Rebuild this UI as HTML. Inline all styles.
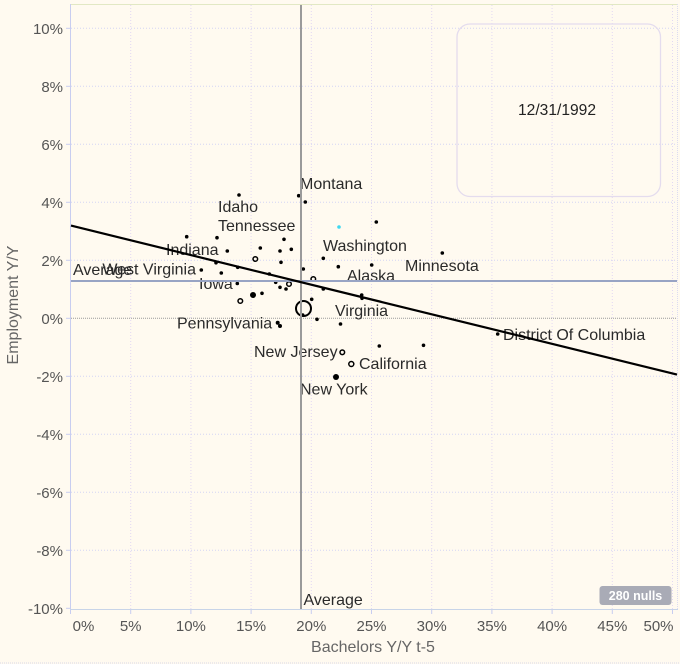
<!DOCTYPE html>
<html><head><meta charset="utf-8"><style>
html,body{margin:0;padding:0;background:#fffaf0;}
svg{display:block;font-family:"Liberation Sans",Arial,sans-serif;}
</style></head><body>
<svg width="680" height="664" viewBox="0 0 680 664" xmlns="http://www.w3.org/2000/svg">
<rect x="0" y="0" width="680" height="664" fill="#fffaf0"/>
<line x1="0" y1="663" x2="680" y2="663" stroke="#d8d8e8" stroke-dasharray="1,1"/>
<!-- plot border -->
<line x1="70" y1="4.5" x2="678" y2="4.5" stroke="#e2e8c4" stroke-width="1"/>
<line x1="70.5" y1="4" x2="70.5" y2="610" stroke="#c8cdf0" stroke-width="1"/>
<line x1="677.5" y1="4" x2="677.5" y2="610" stroke="#dcdcf0" stroke-dasharray="1,1"/>
<line x1="70" y1="609.5" x2="678" y2="609.5" stroke="#c8d4e8" stroke-width="1"/>
<!-- vertical grid -->
<g stroke="#e2d8f2" stroke-width="1" stroke-dasharray="1,2">
<line x1="130.7" y1="5" x2="130.7" y2="609"/>
<line x1="190.9" y1="5" x2="190.9" y2="609"/>
<line x1="251.1" y1="5" x2="251.1" y2="609"/>
<line x1="311.3" y1="5" x2="311.3" y2="609"/>
<line x1="371.5" y1="5" x2="371.5" y2="609"/>
<line x1="431.7" y1="5" x2="431.7" y2="609"/>
<line x1="491.9" y1="5" x2="491.9" y2="609"/>
<line x1="552.1" y1="5" x2="552.1" y2="609"/>
<line x1="612.3" y1="5" x2="612.3" y2="609"/>
<line x1="672.5" y1="5" x2="672.5" y2="609"/>
</g>
<!-- horizontal grid -->
<g stroke="#d4d4f4" stroke-width="1" stroke-dasharray="1,2">
<line x1="71" y1="28.3" x2="677" y2="28.3"/>
<line x1="71" y1="86.3" x2="677" y2="86.3"/>
<line x1="71" y1="144.3" x2="677" y2="144.3"/>
<line x1="71" y1="202.3" x2="677" y2="202.3"/>
<line x1="71" y1="260.3" x2="677" y2="260.3"/>
<line x1="71" y1="376.3" x2="677" y2="376.3"/>
<line x1="71" y1="434.3" x2="677" y2="434.3"/>
<line x1="71" y1="492.3" x2="677" y2="492.3"/>
<line x1="71" y1="550.3" x2="677" y2="550.3"/>
</g>
<line x1="71" y1="318.3" x2="677" y2="318.3" stroke="#9a9a9a" stroke-width="1" stroke-dasharray="1,1"/>
<!-- ticks -->
<g stroke="#c8cdf0" stroke-width="1">
<line x1="66" y1="28.3" x2="70" y2="28.3"/><line x1="66" y1="86.3" x2="70" y2="86.3"/>
<line x1="66" y1="144.3" x2="70" y2="144.3"/><line x1="66" y1="202.3" x2="70" y2="202.3"/>
<line x1="66" y1="260.3" x2="70" y2="260.3"/><line x1="66" y1="318.3" x2="70" y2="318.3"/>
<line x1="66" y1="376.3" x2="70" y2="376.3"/><line x1="66" y1="434.3" x2="70" y2="434.3"/>
<line x1="66" y1="492.3" x2="70" y2="492.3"/><line x1="66" y1="550.3" x2="70" y2="550.3"/>
<line x1="66" y1="608.3" x2="70" y2="608.3"/>
<line x1="70.5" y1="610" x2="70.5" y2="614"/><line x1="130.7" y1="610" x2="130.7" y2="614"/>
<line x1="190.9" y1="610" x2="190.9" y2="614"/><line x1="251.1" y1="610" x2="251.1" y2="614"/>
<line x1="311.3" y1="610" x2="311.3" y2="614"/><line x1="371.5" y1="610" x2="371.5" y2="614"/>
<line x1="431.7" y1="610" x2="431.7" y2="614"/><line x1="491.9" y1="610" x2="491.9" y2="614"/>
<line x1="552.1" y1="610" x2="552.1" y2="614"/><line x1="612.3" y1="610" x2="612.3" y2="614"/>
<line x1="672.5" y1="610" x2="672.5" y2="614"/>
</g>
<!-- y tick labels -->
<g font-size="15" fill="#555" text-anchor="end">
<text x="63" y="33.8">10%</text><text x="63" y="91.8">8%</text>
<text x="63" y="149.8">6%</text><text x="63" y="207.8">4%</text>
<text x="63" y="265.8">2%</text><text x="63" y="323.8">0%</text>
<text x="63" y="381.8">-2%</text><text x="63" y="439.8">-4%</text>
<text x="63" y="497.8">-6%</text><text x="63" y="555.8">-8%</text>
<text x="63" y="613.8">-10%</text>
</g>
<!-- x tick labels -->
<g font-size="15" fill="#555" text-anchor="middle">
<text x="83.5" y="631">0%</text><text x="130.7" y="631">5%</text>
<text x="190.9" y="631">10%</text><text x="251.1" y="631">15%</text>
<text x="311.3" y="631">20%</text><text x="371.5" y="631">25%</text>
<text x="431.7" y="631">30%</text><text x="491.9" y="631">35%</text>
<text x="552.1" y="631">40%</text><text x="612.3" y="631">45%</text>
<text x="658.5" y="631">50%</text>
</g>
<text x="373" y="652" font-size="16" fill="#666" text-anchor="middle">Bachelors Y/Y t-5</text>
<text transform="translate(18,305) rotate(-90)" font-size="16" fill="#666" text-anchor="middle">Employment Y/Y</text>
<!-- date box -->
<rect x="457" y="24" width="203.5" height="172.5" rx="13" ry="13" fill="none" stroke="#e4dcee" stroke-width="1.3"/>
<text x="557" y="115" font-size="15.6" fill="#222" text-anchor="middle">12/31/1992</text>
<!-- labels -->
<g font-size="16" fill="#2a2a2a">
<text x="300" y="189">Montana</text>
<text x="218" y="212">Idaho</text>
<text x="218" y="231">Tennessee</text>
<text x="323" y="251">Washington</text>
<text x="166" y="255">Indiana</text>
<text x="405" y="271">Minnesota</text>
<text x="347" y="281">Alaska</text>
<text x="196" y="274.5" text-anchor="end">West Virginia</text>
<text x="73" y="275">Average</text>
<text x="199" y="289">Iowa</text>
<text x="335" y="316">Virginia</text>
<text x="177" y="328.5">Pennsylvania</text>
<text x="254" y="357">New Jersey</text>
<text x="359" y="369">California</text>
<text x="300" y="394.5">New York</text>
<text x="303.5" y="605">Average</text>
<text x="503" y="340">District Of Columbia</text>
</g>
<!-- dots -->
<g fill="#000">
<circle cx="239" cy="195" r="1.8"/><circle cx="298.7" cy="195.7" r="1.8"/>
<circle cx="305.3" cy="202" r="1.8"/><circle cx="376.3" cy="222" r="1.8"/>
<circle cx="186.7" cy="236.7" r="1.8"/><circle cx="217" cy="237.7" r="1.8"/>
<circle cx="284" cy="239.3" r="1.8"/><circle cx="260.3" cy="248" r="1.8"/>
<circle cx="227.3" cy="251" r="1.8"/><circle cx="280" cy="251" r="1.8"/>
<circle cx="291.3" cy="249.3" r="1.8"/><circle cx="442.3" cy="253" r="1.8"/>
<circle cx="323.3" cy="258.3" r="1.8"/><circle cx="371.7" cy="265" r="1.8"/>
<circle cx="338.3" cy="266.7" r="1.8"/><circle cx="281" cy="262.3" r="1.8"/>
<circle cx="201.3" cy="270" r="1.8"/><circle cx="216" cy="262.7" r="1.8"/>
<circle cx="237.7" cy="267.3" r="1.8"/><circle cx="303.3" cy="269" r="1.8"/>
<circle cx="221.3" cy="273" r="1.8"/><circle cx="269.3" cy="274" r="1.8"/>
<circle cx="237.3" cy="283.5" r="1.8"/><circle cx="275.7" cy="282.3" r="1.8"/>
<circle cx="280" cy="287.3" r="1.8"/><circle cx="286" cy="289" r="1.8"/>
<circle cx="323.3" cy="289" r="1.8"/><circle cx="361.7" cy="295" r="1.8"/>
<circle cx="362" cy="298.3" r="1.8"/><circle cx="262" cy="293.3" r="1.8"/>
<circle cx="311.7" cy="299.3" r="1.8"/><circle cx="302.7" cy="315" r="1.8"/>
<circle cx="317" cy="319.3" r="1.8"/><circle cx="277.7" cy="322.7" r="2"/>
<circle cx="280" cy="326" r="2"/><circle cx="340.5" cy="324" r="1.8"/>
<circle cx="379.3" cy="346" r="1.8"/><circle cx="423.5" cy="345.3" r="1.8"/>
<circle cx="497.7" cy="334" r="1.8"/>
<circle cx="253" cy="295" r="3"/><circle cx="336" cy="377" r="3"/>
</g>
<circle cx="339" cy="227" r="1.8" fill="#40d8f0"/>
<g fill="none" stroke="#000" stroke-width="1.5">
<circle cx="255.3" cy="259" r="2.3"/><circle cx="313.3" cy="279" r="2.3"/>
<circle cx="289" cy="284" r="2.3"/><circle cx="240.3" cy="301" r="2.3"/>
<circle cx="342.3" cy="352.3" r="2.3"/><circle cx="351.3" cy="364" r="2.5"/>
<circle cx="303.5" cy="308.5" r="7.5" stroke-width="2"/>
</g>
<!-- average lines -->
<line x1="71" y1="281" x2="677" y2="281" stroke="#98a4c4" stroke-width="2"/>
<line x1="301" y1="5" x2="301" y2="609" stroke="#9a9a9a" stroke-width="2"/>
<!-- trend line -->
<line x1="71" y1="225.6" x2="677" y2="374.6" stroke="#000" stroke-width="2.2"/>
<!-- nulls badge -->
<rect x="599.5" y="586" width="72" height="19" rx="3" ry="3" fill="#a9abb6"/>
<text x="635.5" y="600" font-size="12.5" font-weight="bold" fill="#fff" text-anchor="middle">280 nulls</text>
</svg>
</body></html>
